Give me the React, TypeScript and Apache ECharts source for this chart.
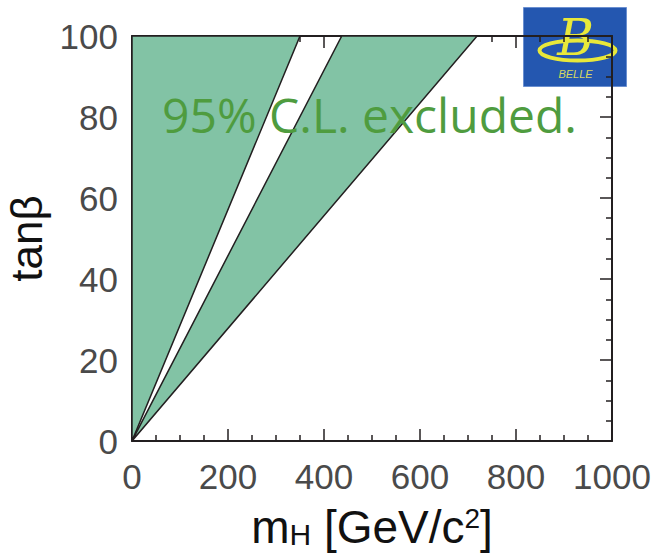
import React, { useEffect, useRef } from "react";
import * as echarts from "echarts";

// Excluded regions (95% C.L.) as polygons in (mH, tanβ) data space
const region1X = [0, 350, 0];
const region1Y = [0, 100, 100];
const region2X = [0, 437, 719];
const region2Y = [0, 100, 100];
const regionsX = [region1X, region2X];
const regionsY = [region1Y, region2Y];

const xMin = 0, xMax = 1000, xStep = 200;
const yMin = 0, yMax = 100, yStep = 20;

export default function App() {
  const ref = useRef<HTMLDivElement>(null);
  useEffect(() => {
    if (!ref.current) return;
    const chart = echarts.init(ref.current, null, { renderer: "svg" });
    const axisLine = { show: true, onZero: false, lineStyle: { color: "#231f20", width: 2 } };
    const tickX = { show: true, inside: true, length: 12, lineStyle: { color: "#231f20", width: 1.5 } };
    const minorX = { show: true, splitNumber: 4, length: 6, lineStyle: { color: "#231f20", width: 1.5 } };
    const ff = "Liberation Sans, Arial, sans-serif";
    const labelStyle = { color: "#4a4a4a", fontSize: 35, fontFamily: ff, formatter: (v: number) => String(v) };
    chart.setOption({
      animation: false,
      backgroundColor: "#fff",
      grid: { left: 132, right: 49, top: 36, bottom: 113, containLabel: false, outerBoundsMode: "none" },
      xAxis: [
        {
          type: "value", min: xMin, max: xMax, interval: xStep, position: "bottom",
          axisLine, axisTick: tickX, minorTick: minorX, splitLine: { show: false },
          axisLabel: { ...labelStyle, margin: 18 },
          name: "{m|m}{s|H}{m| [GeV/c}{p|2}{m|]}", nameLocation: "middle", nameGap: 61,
          nameTextStyle: {
            color: "#111", fontFamily: ff,
            rich: {
              m: { fontSize: 46, lineHeight: 50, color: "#111", fontFamily: ff },
              s: { fontSize: 30, lineHeight: 36, color: "#111", padding: [14, 0, 0, 0], fontFamily: ff },
              p: { fontSize: 28, lineHeight: 32, color: "#111", padding: [0, 0, 18, 0], fontFamily: ff },
            },
          },
        },
        {
          type: "value", min: xMin, max: xMax, interval: xStep, position: "top",
          axisLine, axisTick: tickX, minorTick: minorX, splitLine: { show: false },
          axisLabel: { show: false },
        },
      ],
      yAxis: [
        {
          type: "value", min: yMin, max: yMax, interval: yStep, position: "left",
          axisLine, axisTick: tickX, minorTick: minorX, splitLine: { show: false },
          axisLabel: { ...labelStyle, margin: 14 },
          name: "tanβ", nameLocation: "middle", nameGap: 78,
          nameTextStyle: { color: "#111", fontSize: 44, fontFamily: ff },
        },
        {
          type: "value", min: yMin, max: yMax, interval: yStep, position: "right",
          axisLine, axisTick: tickX, minorTick: minorX, splitLine: { show: false },
          axisLabel: { show: false },
        },
      ],
      series: [
        {
          type: "custom",
          coordinateSystem: "cartesian2d",
          xAxisIndex: 0,
          yAxisIndex: 0,
          clip: true,
          data: regionsX.map((_, i) => [i, 0]),
          renderItem: (params: any, api: any) => {
            const i = params.dataIndex;
            const pts = regionsX[i].map((x, k) => api.coord([x, regionsY[i][k]]));
            return {
              type: "polygon",
              shape: { points: pts },
              style: { fill: "#82c3a5", stroke: "#231f20", lineWidth: 1.5 },
            };
          },
          z: 1,
        },
      ],
      graphic: [
        {
          type: "text",
          left: 162,
          top: 90,
          style: {
            text: "95% C.L. excluded.",
            fill: "#4f9c3f",
            fontSize: 48,
            lineHeight: 44,
            fontFamily: "Open Sans, sans-serif",
          },
          z: 10,
        },
        {
          type: "group",
          left: 523,
          top: 7,
          z: 20,
          children: [
            { type: "rect", shape: { x: 0, y: 0, width: 103, height: 79 }, style: { fill: "#2457b0", stroke: "#6a8fd0", lineWidth: 1 } },
            { type: "ellipse", shape: { cx: 54, cy: 43, rx: 38, ry: 10 }, style: { fill: "none", stroke: "#e8e83a", lineWidth: 4 } },
            { type: "text", x: 52, y: 4, style: { text: "B", fill: "#e8e83a", fontSize: 50, lineHeight: 52, fontStyle: "italic", fontFamily: "DejaVu Serif, serif", align: "center" } },
            { type: "text", x: 52, y: 60, style: { text: "BELLE", fill: "#d8d860", fontSize: 11, lineHeight: 12, fontStyle: "italic", fontFamily: ff, align: "center" } },
          ],
        },
      ],
    });
    return () => chart.dispose();
  }, []);
  return <div ref={ref} style={{ position: "fixed", left: 0, top: 0, width: 661, height: 554 }} />;
}
